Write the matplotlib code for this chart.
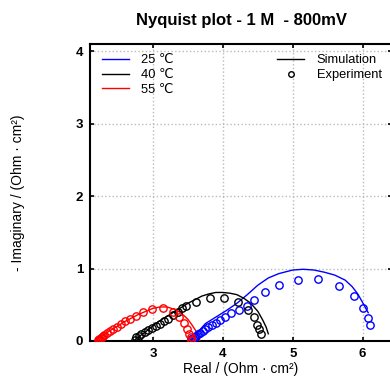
import numpy as np
import matplotlib
matplotlib.use("Agg")
import matplotlib.pyplot as plt
from matplotlib.lines import Line2D

plt.rcParams['font.family'] = ['Liberation Sans', 'DejaVu Sans']

# %%
# experiment points (Z', -Z'')
exp25_re = [3.55, 3.57, 3.60, 3.62, 3.65, 3.68, 3.71, 3.75, 3.79, 3.84, 3.90, 3.96,
            4.03, 4.12, 4.23, 4.34, 4.45, 4.60, 4.81, 5.08, 5.36, 5.66, 5.87, 6.00,
            6.08, 6.11]
exp25_im = [0.025, 0.04, 0.05, 0.07, 0.09, 0.11, 0.14, 0.165, 0.19, 0.22, 0.25, 0.29,
            0.335, 0.38, 0.43, 0.49, 0.565, 0.67, 0.77, 0.84, 0.85, 0.76, 0.62, 0.45,
            0.32, 0.22]

exp40_re = [2.74, 2.76, 2.80, 2.83, 2.88, 2.93, 2.98, 3.04, 3.10, 3.16, 3.22, 3.29,
            3.36, 3.42, 3.48, 3.62, 3.81, 4.01, 4.22, 4.36, 4.44, 4.49, 4.52, 4.55]
exp40_im = [0.02, 0.05, 0.07, 0.10, 0.125, 0.15, 0.175, 0.21, 0.24, 0.28, 0.31, 0.36,
            0.40, 0.45, 0.49, 0.545, 0.59, 0.59, 0.535, 0.43, 0.325, 0.225, 0.16, 0.10]

exp55_re = [2.21, 2.23, 2.24, 2.26, 2.27, 2.29, 2.30, 2.34, 2.39, 2.43, 2.48, 2.54,
            2.60, 2.67, 2.76, 2.86, 2.99, 3.14, 3.28, 3.38, 3.45, 3.49, 3.52, 3.54, 3.55]
exp55_im = [0.015, 0.025, 0.03, 0.045, 0.055, 0.07, 0.08, 0.105, 0.14, 0.165, 0.20, 0.23,
            0.27, 0.30, 0.34, 0.40, 0.44, 0.45, 0.395, 0.335, 0.245, 0.165, 0.10, 0.05,
            0.02]

# simulation (fitted circuit) curves
sim25_re = [3.52, 3.60, 3.66, 3.75, 3.90, 4.05, 4.20, 4.35, 4.50, 4.65, 4.80, 5.00,
            5.15, 5.30, 5.45, 5.60, 5.75, 5.85, 5.93, 6.00, 6.05, 6.08]
sim25_im = [0.0, 0.06, 0.14, 0.24, 0.33, 0.42, 0.52, 0.64, 0.77, 0.87, 0.93, 0.98,
            0.99, 0.98, 0.95, 0.91, 0.84, 0.75, 0.65, 0.53, 0.44, 0.39]

sim40_re = [2.72, 2.80, 2.90, 3.00, 3.10, 3.20, 3.30, 3.40, 3.50, 3.60, 3.70, 3.80,
            3.90, 4.00, 4.10, 4.20, 4.30, 4.40, 4.50, 4.57, 4.62, 4.65]
sim40_im = [0.0, 0.06, 0.13, 0.21, 0.28, 0.34, 0.40, 0.46, 0.52, 0.57, 0.62, 0.65,
            0.67, 0.67, 0.66, 0.64, 0.59, 0.52, 0.41, 0.29, 0.19, 0.10]

sim55_re = [2.17, 2.22, 2.30, 2.40, 2.50, 2.60, 2.70, 2.80, 2.90, 3.00, 3.10, 3.20,
            3.30, 3.40, 3.50, 3.56, 3.62, 3.66, 3.67]
sim55_im = [0.0, 0.04, 0.09, 0.15, 0.21, 0.27, 0.32, 0.37, 0.41, 0.45, 0.47, 0.47,
            0.44, 0.39, 0.30, 0.22, 0.13, 0.05, 0.0]

temps = ['25 ℃', '40 ℃', '55 ℃']
colors = ['blue', 'black', 'red']

# %%
fig = plt.figure(figsize=(3.9, 3.77), dpi=100)
ax = fig.add_axes([0.2308, 0.0955, 0.7744, 0.7878])

sims = [(sim25_re, sim25_im), (sim40_re, sim40_im), (sim55_re, sim55_im)]
exps = [(exp25_re, exp25_im), (exp40_re, exp40_im), (exp55_re, exp55_im)]
for (sx, sy), (ex, ey), c in zip(sims, exps, colors):
    ax.plot(sx, sy, color=c, lw=1.0, zorder=3)
    ax.plot(ex, ey, 'o', mfc='none', mec=c, ms=5.3, mew=1.0, zorder=4)

ax.set_xlim(2.1, 6.42)
ax.set_ylim(0, 4.1)
ax.set_xticks([3, 4, 5, 6])
ax.set_yticks([0, 1, 2, 3, 4])
ax.grid(True, ls=':', color='#bbbbbb', lw=1.0)
ax.set_axisbelow(True)
for s in ax.spines.values():
    s.set_linewidth(1.5)
ax.tick_params(direction='in', length=3, width=1.2, top=True, right=True, pad=5)
for lab in ax.get_xticklabels() + ax.get_yticklabels():
    lab.set_fontweight('bold')
    lab.set_fontsize(9.5)

ax.set_title('Nyquist plot - 1 M  - 800mV', fontsize=12, fontweight='bold', pad=13.5)
ax.set_xlabel('Real / (Ohm · cm²)', fontsize=10, labelpad=1.5)
ax.set_ylabel('- Imaginary / (Ohm · cm²)', fontsize=10)
ax.yaxis.set_label_coords(-0.215, 0.5)

h1 = [Line2D([], [], color=c, lw=1.0) for c in colors]
leg1 = ax.legend(h1, temps, loc='upper left', bbox_to_anchor=(0.04, 0.965),
                 frameon=False, fontsize=9.3, handlelength=2.1, handletextpad=0.95,
                 labelspacing=0.2, borderpad=0, borderaxespad=0)
ax.add_artist(leg1)
h2 = [Line2D([], [], color='black', lw=1.0),
      Line2D([], [], ls='none', marker='o', mfc='none', mec='black', ms=4, mew=1.0)]
ax.legend(h2, ['Simulation', 'Experiment'], loc='upper left',
          bbox_to_anchor=(0.62, 0.965), frameon=False, fontsize=9.3, handlelength=2.1,
          handletextpad=0.95, labelspacing=0.2, borderpad=0, borderaxespad=0,
          numpoints=1)

fig.savefig('out.png', dpi=100)
